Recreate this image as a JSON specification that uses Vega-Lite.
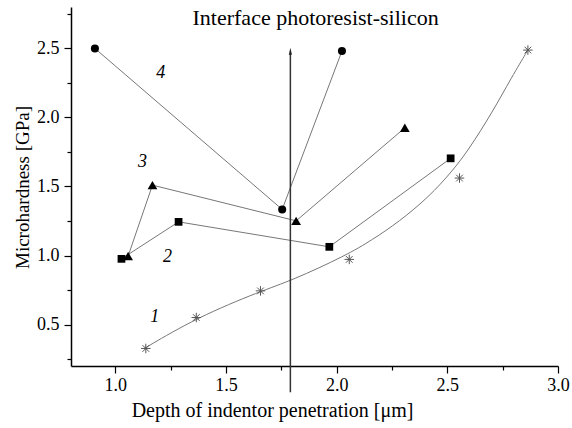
{
  "$schema": "https://vega.github.io/schema/vega-lite/v6.json",
  "width": 487,
  "height": 359,
  "autosize": {"type": "none"},
  "padding": {"left": 71, "top": 7, "right": 14, "bottom": 62},
  "background": "white",
  "config": {
    "view": {"stroke": null},
    "font": "Liberation Serif",
    "axis": {
      "labelFont": "Liberation Serif",
      "titleFont": "Liberation Serif",
      "labelFontSize": 18,
      "titleFontSize": 19,
      "titleFontWeight": "normal",
      "labelColor": "#000",
      "titleColor": "#000",
      "domainColor": "#000",
      "tickColor": "#000",
      "domainWidth": 1.5,
      "tickWidth": 1.2,
      "grid": false,
      "labelFlush": false
    }
  },
  "datasets": {
    "series": [
      {"s": "4", "o": 1, "x": 0.908, "y": 2.5},
      {"s": "4", "o": 2, "x": 1.754, "y": 1.334},
      {"s": "4", "o": 3, "x": 2.024, "y": 2.481},
      {"s": "3", "o": 1, "x": 1.058, "y": 0.996},
      {"s": "3", "o": 2, "x": 1.168, "y": 1.51},
      {"s": "3", "o": 3, "x": 1.817, "y": 1.251},
      {"s": "3", "o": 4, "x": 2.308, "y": 1.925},
      {"s": "2", "o": 1, "x": 1.028, "y": 0.976},
      {"s": "2", "o": 2, "x": 1.286, "y": 1.244},
      {"s": "2", "o": 3, "x": 1.967, "y": 1.063},
      {"s": "2", "o": 4, "x": 2.515, "y": 1.704}
    ],
    "s1": [
      {"x": 1.138, "y": 0.327},
      {"x": 1.366, "y": 0.551},
      {"x": 1.656, "y": 0.744},
      {"x": 2.057, "y": 0.972},
      {"x": 2.555, "y": 1.561},
      {"x": 2.864, "y": 2.488}
    ],
    "fit": [
      {"x": 1.133, "y": 0.329},
      {"x": 1.369, "y": 0.551},
      {"x": 1.659, "y": 0.744},
      {"x": 1.794, "y": 0.817},
      {"x": 2.042, "y": 1.0},
      {"x": 2.162, "y": 1.115},
      {"x": 2.282, "y": 1.245},
      {"x": 2.417, "y": 1.425},
      {"x": 2.522, "y": 1.610},
      {"x": 2.597, "y": 1.768},
      {"x": 2.702, "y": 2.034},
      {"x": 2.792, "y": 2.295},
      {"x": 2.864, "y": 2.488}
    ],
    "labels": [
      {"x": 1.205, "y": 2.32, "t": "4"},
      {"x": 1.123, "y": 1.68, "t": "3"},
      {"x": 1.236, "y": 0.99, "t": "2"},
      {"x": 1.178, "y": 0.556, "t": "1"}
    ],
    "arrow": [{"x": 1.791, "y": 0.01, "y2": 2.46}],
    "arrowhead": [{"x": 1.791, "y": 2.48}],
    "title": [{"x": 1.905, "y": 2.72, "t": "Interface photoresist-silicon"}]
  },
  "resolve": {"axis": {"x": "independent", "y": "independent"}},
  "layer": [
    {
      "data": {"name": "series"},
      "mark": {"type": "line", "color": "#777", "strokeWidth": 1},
      "encoding": {
        "x": {"field": "x", "type": "quantitative", "scale": {"domain": [0.8, 3.0], "nice": false, "zero": false},
          "axis": {"values": [1.0, 1.5, 2.0, 2.5, 3.0], "format": ".1f", "tickSize": 7, "labelPadding": 3,
            "labelFont": "Liberation Serif", "labelFontSize": 18, "labelFlush": false,
            "title": "Depth of indentor penetration [μm]", "titleFontSize": 20, "titleX": 201, "titleY": 50, "titleBaseline": "alphabetic", "titleAnchor": null}},
        "y": {"field": "y", "type": "quantitative", "scale": {"domain": [0.2, 2.8], "nice": false, "zero": false},
          "axis": {"values": [0.5, 1.0, 1.5, 2.0, 2.5], "format": ".1f", "tickSize": 7, "labelPadding": 5,
            "labelFont": "Liberation Serif", "labelFontSize": 18,
            "title": "Microhardness [GPa]", "titleX": -43, "titleY": 180, "titleAngle": 270, "titleBaseline": "alphabetic", "titleAnchor": null}},
        "detail": {"field": "s"},
        "order": {"field": "o"}
      }
    },
    {
      "data": {"name": "fit"},
      "mark": {"type": "line", "color": "#777", "strokeWidth": 1, "interpolate": "basis"},
      "encoding": {
        "x": {"field": "x", "type": "quantitative", "axis": {"values": [1.25, 1.75, 2.25, 2.75], "labels": false, "domain": false, "tickSize": 4, "title": null, "orient": "bottom"}},
        "y": {"field": "y", "type": "quantitative", "axis": {"values": [0.25, 0.75, 1.25, 1.75, 2.25, 2.75], "labels": false, "domain": false, "tickSize": 4, "title": null, "orient": "left"}}
      }
    },
    {
      "data": {"name": "arrow"},
      "mark": {"type": "rule", "color": "#333", "strokeWidth": 1.5},
      "encoding": {
        "x": {"field": "x", "type": "quantitative", "axis": null},
        "y": {"field": "y", "type": "quantitative", "axis": null},
        "y2": {"field": "y2"}
      }
    },
    {
      "data": {"name": "arrowhead"},
      "mark": {"type": "point", "shape": "M0,-1L0.45,1L-0.45,1Z", "filled": true, "color": "#222", "size": 50, "opacity": 1},
      "encoding": {
        "x": {"field": "x", "type": "quantitative", "axis": null},
        "y": {"field": "y", "type": "quantitative", "axis": null}
      }
    },
    {
      "data": {"name": "series"},
      "transform": [{"filter": "datum.s == '4'"}],
      "mark": {"type": "point", "shape": "circle", "filled": true, "color": "#000", "size": 65, "opacity": 1},
      "encoding": {
        "x": {"field": "x", "type": "quantitative", "axis": null},
        "y": {"field": "y", "type": "quantitative", "axis": null}
      }
    },
    {
      "data": {"name": "series"},
      "transform": [{"filter": "datum.s == '3'"}],
      "mark": {"type": "point", "shape": "triangle-up", "filled": true, "color": "#000", "size": 95, "opacity": 1},
      "encoding": {
        "x": {"field": "x", "type": "quantitative", "axis": null},
        "y": {"field": "y", "type": "quantitative", "axis": null}
      }
    },
    {
      "data": {"name": "series"},
      "transform": [{"filter": "datum.s == '2'"}],
      "mark": {"type": "point", "shape": "square", "filled": true, "color": "#000", "size": 60, "opacity": 1},
      "encoding": {
        "x": {"field": "x", "type": "quantitative", "axis": null},
        "y": {"field": "y", "type": "quantitative", "axis": null}
      }
    },
    {
      "data": {"name": "s1"},
      "mark": {"type": "point", "shape": "M-1,0L1,0M0,-1L0,1M-0.7,-0.7L0.7,0.7M-0.7,0.7L0.7,-0.7", "filled": false, "color": "#555", "strokeWidth": 1, "size": 90, "opacity": 1},
      "encoding": {
        "x": {"field": "x", "type": "quantitative", "axis": null},
        "y": {"field": "y", "type": "quantitative", "axis": null}
      }
    },
    {
      "data": {"name": "labels"},
      "mark": {"type": "text", "font": "Liberation Serif", "fontStyle": "italic", "fontSize": 18, "color": "#000"},
      "encoding": {
        "x": {"field": "x", "type": "quantitative", "axis": null},
        "y": {"field": "y", "type": "quantitative", "axis": null},
        "text": {"field": "t"}
      }
    },
    {
      "data": {"name": "title"},
      "mark": {"type": "text", "font": "Liberation Serif", "fontSize": 22, "color": "#000"},
      "encoding": {
        "x": {"field": "x", "type": "quantitative", "axis": null},
        "y": {"field": "y", "type": "quantitative", "axis": null},
        "text": {"field": "t"}
      }
    }
  ]
}
